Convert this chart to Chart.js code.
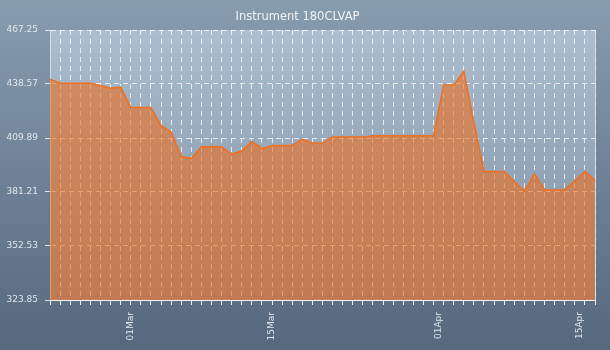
<!DOCTYPE html>
<html>
<head>
<meta charset="utf-8">
<title>Instrument 180CLVAP</title>
<script src="https://cdn.jsdelivr.net/npm/chart.js@4/dist/chart.umd.min.js"></script>
<style>
  html, body { margin: 0; padding: 0; background: #6d8298; }
  canvas { display: block; }
</style>
</head>
<body>
<canvas id="chart" width="610" height="350"></canvas>
<script>
const chartTitle = "Instrument 180CLVAP";

// one value per trading point
const prices = [
  441.1, 439.0, 439.0, 439.0, 439.0, 437.6, 436.3, 436.9, 426.1, 426.1,
  426.1, 416.4, 413.0, 400.1, 399.0, 405.2, 405.2, 405.2, 401.2, 403.1,
  408.0, 404.2, 405.9, 405.9, 405.9, 409.1, 407.2, 407.2, 410.4, 410.4,
  410.4, 410.4, 411.1, 411.1, 411.1, 411.1, 411.1, 411.1, 411.1, 438.0,
  438.0, 445.3, 418.1, 392.1, 392.1, 392.1, 386.7, 381.5, 390.9, 382.3,
  382.3, 382.3, 387.2, 392.0, 387.4
];

// date labels and where they sit on the point index axis
const dateLabels = ["01Mar", "15Mar", "01Apr", "15Apr"];
const dateTicks = [8, 22, 38.5, 52.5];

// y axis
const yMin = 323.85;
const yMax = 467.25;
const yStep = 28.68;

const ctx = document.getElementById("chart");

const points = prices.map((p, i) => ({ x: i, y: p }));

//backgrounds for the page and the plot area
const backgroundPlugin = {
  id: "backgrounds",
  beforeDraw(chart) {
    const c = chart.ctx;
    const area = chart.chartArea;
    c.save();
    let g = c.createLinearGradient(0, 0, 0, chart.height);
    g.addColorStop(0, "#889cb0");
    g.addColorStop(1, "#55687e");
    c.fillStyle = g;
    c.fillRect(0, 0, chart.width, chart.height);

    g = c.createLinearGradient(0, area.top, 0, area.bottom);
    g.addColorStop(0, "#acbecf");
    g.addColorStop(1, "#7b8fa4");
    c.fillStyle = g;
    c.fillRect(area.left, area.top, area.right - area.left, area.bottom - area.top);
    c.restore();
  },
  afterDatasetsDraw(chart) {
    const c = chart.ctx;
    const area = chart.chartArea;
    c.save();
    c.strokeStyle = "rgba(225, 230, 236, 0.85)";
    c.lineWidth = 1;
    c.beginPath();
    c.moveTo(Math.round(area.right) + 0.5, area.top);
    c.lineTo(Math.round(area.right) + 0.5, area.bottom);
    c.stroke();
    c.restore();
  },
};

const tickFont = { family: "DejaVu Sans", size: 9 };
const tickColor = "rgba(232, 236, 241, 0.95)";

const myChart = new Chart(ctx, {
  type: "line",
  data: {
    datasets: [
      {
        label: chartTitle,
        data: points,
        borderColor: "rgb(240, 112, 32)",
        backgroundColor: "rgba(238, 110, 30, 0.6)",
        borderWidth: 1.6,
        pointRadius: 0,
        tension: 0,
        fill: "start",
      },
    ],
  },
  options: {
    responsive: false,
    animation: false,
    devicePixelRatio: 1,
    layout: {
      padding: { left: 0, right: 15, top: 0, bottom: 0 },
    },
    plugins: {
      legend: { display: false },
      tooltip: { enabled: false },
      title: {
        display: true,
        text: chartTitle,
        color: "rgba(240, 243, 246, 1)",
        font: { family: "DejaVu Sans", size: 11.5, weight: "normal" },
        padding: { top: 10.6, bottom: 5.6 },
      },
    },
    scales: {
      x: {
        type: "linear",
        min: 0,
        max: prices.length - 1,
        afterBuildTicks: (scale) => {
          scale.ticks = prices.map((p, i) => ({ value: i }));
        },
        afterFit: (scale) => {
          scale.height = 6;
        },
        ticks: { display: false, autoSkip: false },
        grid: {
          color: "rgba(255, 255, 255, 0.75)",
          lineWidth: 1,
          drawTicks: true,
          tickLength: 5,
          tickColor: "rgba(245, 245, 245, 0.95)",
          tickBorderDash: [],
        },
        border: {
          display: true,
          color: "rgba(245, 245, 245, 1)",
          width: 1,
          dash: [5, 4],
        },
      },
      x2: {
        type: "linear",
        position: "bottom",
        weight: 1,
        min: 0,
        max: prices.length - 1,
        afterBuildTicks: (scale) => {
          scale.ticks = dateTicks.map((v) => ({ value: v }));
        },
        afterFit: (scale) => {
          scale.height = 44;
        },
        ticks: {
          autoSkip: false,
          minRotation: 90,
          maxRotation: 90,
          padding: 6,
          color: tickColor,
          font: tickFont,
          callback: (value, index) => dateLabels[index],
        },
        grid: { display: false, drawTicks: false },
        border: { display: false },
      },
      y: {
        min: yMin,
        max: yMax,
        afterBuildTicks: (scale) => {
          const t = [];
          for (let i = 0; i <= 5; i++) t.push({ value: yMin + i * yStep });
          scale.ticks = t;
        },
        afterFit: (scale) => {
          scale.width = 50;
        },
        ticks: {
          padding: 7,
          color: tickColor,
          font: tickFont,
          callback: (value) => value.toFixed(2),
        },
        grid: {
          color: "rgba(255, 255, 255, 0.75)",
          lineWidth: 1,
          tickLength: 5,
          tickColor: "rgba(235, 238, 242, 0.9)",
          tickBorderDash: [],
        },
        border: {
          display: true,
          color: "rgba(215, 222, 230, 0.9)",
          width: 1,
          dash: [5, 4],
        },
      },
    },
  },
  plugins: [backgroundPlugin],
});
</script>
</body>
</html>
